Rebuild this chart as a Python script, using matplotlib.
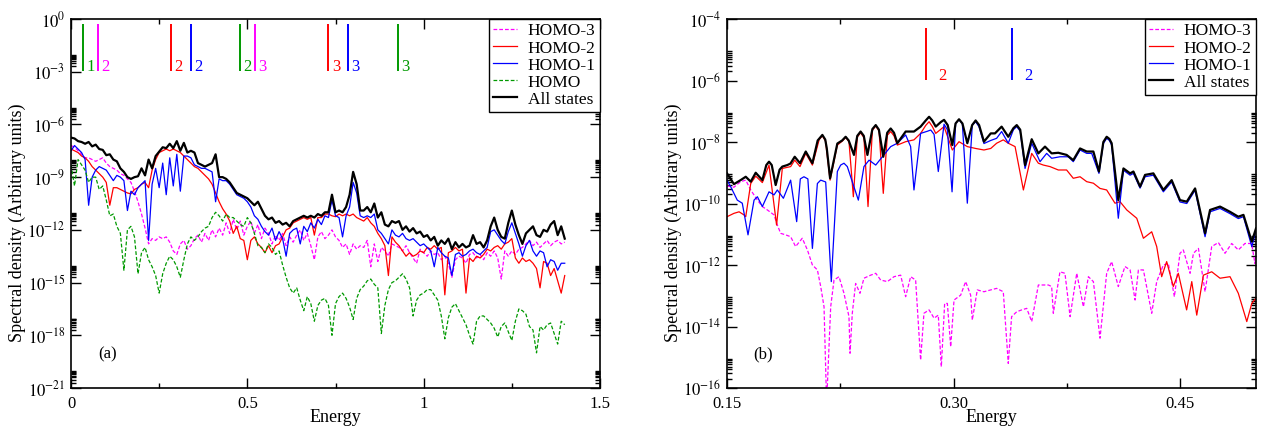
import numpy as np
import matplotlib
matplotlib.use("Agg")
import matplotlib.pyplot as plt
from matplotlib.ticker import FixedLocator, FuncFormatter, NullFormatter

plt.rcParams['font.family'] = ['Liberation Serif', 'DejaVu Serif']
plt.rcParams['mathtext.fontset'] = 'stix'

MAG = '#ff00ff'
RED = '#ff0000'
BLUE = '#0000ff'
GREEN = '#009900'

# --- panel (a): energy grid and log10 of the spectral density ---
energy_a = np.linspace(0.0, 1.4, 141)

all_a = [
    -6.75, -6.80, -6.95, -7.00, -7.10, -7.00, -7.25, -7.15, -7.40, -7.45,
    -7.75, -7.70, -8.00, -8.10, -8.50, -8.70, -9.00, -9.10, -9.00, -8.95,
    -8.50, -8.90, -8.00, -8.50, -7.80, -7.55, -7.30, -7.35, -7.10, -7.35,
    -6.95, -7.50, -7.05, -7.60, -7.50, -7.60, -8.20, -8.30, -8.40, -8.30,
    -8.20, -7.70, -9.00, -9.00, -9.10, -9.30, -9.60, -9.90, -10.00, -10.10,
    -10.20, -10.40, -10.60, -10.40, -10.80, -11.20, -11.40, -11.30, -11.60, -11.50,
    -11.70, -11.60, -11.80, -11.50, -11.40, -11.30, -11.20, -11.30, -11.20, -11.30,
    -11.10, -11.20, -11.00, -11.00, -10.00, -11.00, -10.90, -11.00, -10.70, -10.00,
    -8.70, -9.40, -10.90, -10.90, -10.70, -11.00, -10.50, -11.30, -11.00, -11.70,
    -11.80, -11.50, -11.60, -11.50, -12.00, -11.80, -12.10, -11.90, -12.20, -12.10,
    -12.40, -12.30, -12.60, -12.40, -12.90, -12.60, -12.80, -12.50, -13.10, -12.70,
    -13.00, -12.80, -13.00, -12.90, -12.30, -12.80, -12.70, -13.00, -12.60, -11.80,
    -11.30, -12.00, -12.40, -12.50, -11.60, -10.90, -11.70, -12.30, -12.80, -12.20,
    -12.00, -11.80, -12.30, -12.40, -12.00, -12.10, -11.70, -11.50, -12.30, -11.80,
    -12.50,
]

homo2_a = [
    -7.4, -7.5, -7.6, -7.8, -7.9, -8.1, -8.4, -8.6, -8.8, -9.0,
    -9.3, -10.6, -9.6, -9.6, -9.7, -9.8, -9.9, -9.95, -9.7, -9.6,
    -9.4, -9.3, -9.6, -8.6, -8.0, -7.6, -7.5, -7.4, -7.5, -7.4,
    -7.5, -7.6, -7.8, -8.0, -8.2, -8.4, -8.5, -8.7, -8.9, -9.1,
    -9.4, -9.9, -10.4, -10.8, -11.1, -11.5, -12.2, -11.8, -12.5, -12.6,
    -13.7, -12.6, -12.4, -12.8, -13.0, -13.3, -12.9, -13.3, -12.9, -12.8,
    -12.4, -12.0, -11.9, -11.6, -11.5, -11.4, -11.3, -11.4, -11.3, -12.3,
    -11.3, -11.3, -11.1, -11.1, -11.2, -11.25, -11.1, -11.2, -11.1, -11.2,
    -11.1, -11.3, -11.4, -11.5, -11.3, -11.6, -11.8, -12.2, -12.5, -12.9,
    -14.6, -12.4, -12.7, -12.9, -13.2, -13.5, -13.3, -13.5, -13.4, -13.2,
    -13.3, -13.0, -13.1, -12.9, -13.1, -13.0, -15.7, -13.3, -13.2, -13.0,
    -13.2, -13.1, -15.6, -13.6, -13.8, -13.5, -13.6, -13.4, -13.1, -13.2,
    -13.0, -12.9, -13.1, -12.8, -12.7, -12.5, -13.6, -13.9, -13.6, -13.8,
    -13.7, -13.9, -14.2, -15.3, -13.8, -13.9, -14.6, -14.2, -14.9, -15.6,
    -14.6,
]

homo1_a = [
    -7.5, -7.2, -7.4, -7.6, -8.0, -10.6, -9.0, -8.6, -8.4, -8.5,
    -8.6, -8.9, -9.2, -8.9, -9.0, -9.2, -10.9, -9.8, -10.0, -9.6,
    -9.4, -9.2, -12.6, -9.4, -8.5, -9.6, -8.2, -10.0, -7.9, -9.5,
    -7.7, -9.8, -7.8, -7.8, -7.9, -8.3, -8.4, -8.5, -8.5, -8.6,
    -8.7, -10.4, -9.1, -9.2, -9.2, -9.4, -9.7, -10.0, -10.1, -10.2,
    -10.4, -10.7, -11.2, -11.4, -11.8, -12.1, -12.3, -11.9, -12.6, -12.1,
    -12.5, -13.5, -12.2, -12.0, -11.9, -12.8, -11.8, -12.1, -11.6, -11.9,
    -11.4, -11.7, -11.2, -11.3, -10.3, -11.2, -11.3, -12.4, -11.2, -10.7,
    -9.3, -9.9, -11.2, -11.3, -11.2, -11.3, -11.1, -12.0, -12.2, -12.5,
    -12.8, -12.0, -12.3, -12.4, -12.2, -12.5, -12.6, -12.5, -12.7, -12.9,
    -12.8, -13.0, -13.2, -14.1, -13.0, -13.3, -13.5, -13.6, -14.6, -13.4,
    -13.3, -13.5, -13.4, -13.2, -13.1, -13.3, -13.4, -13.2, -13.0, -12.1,
    -12.0, -12.3, -12.6, -12.8, -12.1, -11.6, -12.2, -12.8, -13.5, -12.9,
    -12.6, -13.2, -13.5, -13.2, -13.3, -14.1, -13.7, -13.8, -14.3, -13.9,
    -13.9,
]

homo3_a = [
    -7.2, -7.3, -7.5, -7.7, -7.9, -7.9, -8.0, -8.1, -8.0, -7.9,
    -8.2, -8.4, -8.5, -8.6, -8.8, -8.9, -9.1, -9.3, -9.8, -10.4,
    -11.1, -11.9, -12.8, -12.5, -12.6, -12.4, -12.5, -12.4, -12.7, -13.2,
    -13.4, -12.8, -12.6, -13.1, -12.9, -12.5, -12.3, -12.7, -12.2, -12.6,
    -12.0, -12.4, -11.9, -12.3, -11.6, -12.2, -11.4, -12.0, -11.5, -12.3,
    -11.8, -11.5, -12.2, -11.7, -12.5, -11.9, -12.2, -12.8, -12.3, -12.6,
    -12.2, -12.9, -12.4, -12.7, -12.3, -12.0, -12.6, -12.2, -12.9, -13.7,
    -12.4, -12.1, -12.5, -12.3, -12.0, -12.4, -12.6, -13.0, -12.8, -13.4,
    -12.8, -13.1, -12.9, -13.0, -12.6, -14.1, -12.8, -13.8, -13.0, -13.2,
    -13.5, -12.8, -12.9, -13.0, -13.2, -12.9, -13.3, -13.6, -13.9, -13.1,
    -13.3, -13.5, -13.2, -13.4, -13.3, -13.7, -13.5, -13.9, -14.7, -13.7,
    -13.5, -13.6, -13.9, -13.4, -13.3, -13.6, -13.4, -13.7, -13.3, -13.5,
    -13.2, -13.6, -14.8, -13.2, -13.5, -13.2, -13.4, -13.1, -13.0, -12.8,
    -12.6, -12.9, -12.7, -13.0, -12.8, -12.6, -12.9, -12.7, -12.6, -12.8,
    -12.7,
]

homo_a = [
    -8.3, -9.5, -8.0, -8.3, -8.6, -9.3, -9.0, -9.0, -9.7, -9.5,
    -10.3, -11.2, -11.1, -11.8, -12.2, -14.3, -12.0, -11.8, -12.4, -14.5,
    -13.3, -13.0, -13.7, -14.1, -14.6, -15.6, -14.5, -13.9, -13.5, -13.7,
    -14.1, -14.7, -13.7, -12.8, -12.4, -12.6, -12.4, -12.1, -11.9, -11.8,
    -11.3, -11.0, -11.2, -11.5, -11.1, -11.3, -11.3, -11.5, -11.7, -11.8,
    -11.3, -11.6, -12.2, -12.9, -13.0, -13.3, -12.8, -13.0, -13.4, -13.2,
    -14.0, -14.7, -15.3, -15.6, -15.3, -16.0, -16.6, -15.8, -16.2, -17.2,
    -16.3, -16.0, -15.9, -16.3, -18.0, -16.2, -15.8, -15.6, -15.9, -16.4,
    -17.1, -15.9, -15.4, -15.2, -14.9, -14.8, -15.1, -15.3, -17.9, -16.3,
    -15.4, -15.0, -14.9, -14.7, -14.5, -14.8, -15.3, -16.9, -16.0, -15.7,
    -15.6, -15.4, -15.4, -15.7, -16.0, -16.9, -18.2, -17.0, -16.4, -16.2,
    -16.6, -17.0, -17.4, -18.0, -18.5, -17.2, -16.9, -16.9, -17.1, -17.3,
    -17.6, -18.1, -17.5, -17.3, -17.8, -18.3, -17.2, -16.5, -16.6, -16.8,
    -17.5, -17.7, -19.0, -17.5, -17.7, -17.4, -17.3, -17.9, -18.5, -17.2,
    -17.4,
]

# harmonic markers drawn at the top of panel (a)
marks_a_x = [0.033, 0.076, 0.284, 0.340, 0.479, 0.522, 0.730, 0.786, 0.926]
marks_a_lab = ['1', '2', '2', '2', '2', '3', '3', '3', '3']
marks_a_col = [GREEN, MAG, RED, BLUE, GREEN, MAG, RED, BLUE, GREEN]

# --- panel (b): zoom on 0.15-0.5, log10 values at read positions ---
all_b_x = [
    0.1500, 0.1546, 0.1590, 0.1624, 0.1657, 0.1690, 0.1734, 0.1760, 0.1778, 0.1796,
    0.1822, 0.1848, 0.1866, 0.1899, 0.1920, 0.1948, 0.1983, 0.2021, 0.2065, 0.2100,
    0.2131, 0.2150, 0.2160, 0.2182, 0.2230, 0.2262, 0.2285, 0.2305, 0.2340, 0.2362,
    0.2384, 0.2405, 0.2429, 0.2462, 0.2484, 0.2505, 0.2534, 0.2560, 0.2583, 0.2605,
    0.2627, 0.2682, 0.2737, 0.2781, 0.2815, 0.2837, 0.2858, 0.2881, 0.2915, 0.2936,
    0.2960, 0.2991, 0.3012, 0.3035, 0.3058, 0.3090, 0.3122, 0.3145, 0.3168, 0.3200,
    0.3245, 0.3273, 0.3317, 0.3361, 0.3395, 0.3417, 0.3440, 0.3472, 0.3516, 0.3560,
    0.3604, 0.3648, 0.3692, 0.3747, 0.3791, 0.3836, 0.3880, 0.3924, 0.3961, 0.3990,
    0.4012, 0.4030, 0.4045, 0.4089, 0.4123, 0.4167, 0.4189, 0.4233, 0.4266, 0.4321,
    0.4387, 0.4442, 0.4497, 0.4542, 0.4597, 0.4663, 0.4696, 0.4762, 0.4828, 0.4883,
    0.4917, 0.4972, 0.5000,
]
all_b = [
    -9.02, -9.37, -9.24, -9.13, -9.29, -9.00, -9.24, -8.75, -8.64, -8.75,
    -9.40, -8.90, -8.80, -8.75, -8.70, -8.48, -8.69, -8.31, -8.69, -7.95,
    -7.77, -7.92, -8.20, -9.18, -8.05, -7.95, -7.83, -7.95, -8.42, -7.80,
    -7.66, -7.80, -8.42, -7.58, -7.45, -7.60, -8.48, -7.70, -7.56, -7.70,
    -8.04, -7.66, -7.66, -7.50, -7.30, -7.18, -7.30, -7.50, -7.35, -7.28,
    -7.45, -8.10, -7.40, -7.26, -7.40, -8.04, -7.45, -7.30, -7.45, -7.99,
    -7.72, -7.72, -7.50, -7.83, -7.55, -7.45, -7.60, -8.75, -7.91, -8.37,
    -8.15, -8.37, -8.35, -8.42, -8.59, -8.21, -8.31, -8.31, -8.96, -8.00,
    -7.83, -7.90, -8.04, -9.89, -8.86, -9.02, -8.96, -9.45, -9.07, -9.02,
    -9.56, -9.24, -9.89, -9.94, -9.51, -10.97, -10.21, -10.10, -10.27, -10.43,
    -10.37, -11.24, -10.81,
]

homo2_b_x = [
    0.1500, 0.1546, 0.1580, 0.1612, 0.1624, 0.1657, 0.1690, 0.1734, 0.1778, 0.1828,
    0.1866, 0.1921, 0.1948, 0.1983, 0.2021, 0.2065, 0.2110, 0.2131, 0.2152, 0.2182,
    0.2230, 0.2263, 0.2285, 0.2307, 0.2336, 0.2362, 0.2384, 0.2406, 0.2433, 0.2462,
    0.2484, 0.2506, 0.2534, 0.2561, 0.2583, 0.2605, 0.2627, 0.2682, 0.2737, 0.2781,
    0.2815, 0.2837, 0.2859, 0.2881, 0.2936, 0.2991, 0.3035, 0.3090, 0.3145, 0.3200,
    0.3245, 0.3284, 0.3328, 0.3361, 0.3406, 0.3461, 0.3516, 0.3560, 0.3593, 0.3637,
    0.3692, 0.3747, 0.3791, 0.3836, 0.3880, 0.3924, 0.3968, 0.4012, 0.4067, 0.4100,
    0.4145, 0.4211, 0.4255, 0.4310, 0.4343, 0.4376, 0.4409, 0.4453, 0.4486, 0.4541,
    0.4575, 0.4608, 0.4652, 0.4707, 0.4762, 0.4828, 0.4883, 0.4939, 0.4972, 0.5000,
]
homo2_b = [
    -10.43, -10.32, -10.27, -10.37, -10.43, -9.35, -9.11, -9.32, -8.75, -10.70,
    -8.86, -8.80, -8.59, -8.80, -8.37, -8.75, -7.92, -7.80, -7.97, -9.24,
    -8.10, -7.97, -7.85, -7.99, -9.78, -7.84, -7.70, -7.86, -10.10, -7.62,
    -7.48, -7.64, -9.67, -7.78, -7.66, -7.80, -8.10, -7.99, -7.93, -7.72,
    -7.46, -7.34, -7.50, -7.72, -7.50, -8.26, -7.99, -8.15, -8.21, -8.26,
    -8.21, -8.04, -7.93, -8.04, -8.15, -9.56, -8.37, -8.69, -8.75, -8.80,
    -8.91, -8.91, -9.18, -9.13, -9.29, -9.34, -9.51, -9.56, -9.99, -9.94,
    -10.21, -10.48, -11.13, -10.92, -11.40, -12.38, -11.89, -12.70, -12.27, -13.46,
    -12.54, -13.63, -12.33, -12.22, -12.43, -12.38, -12.92, -13.84, -13.25, -13.08,
]

homo1_b_x = [
    0.1500, 0.1524, 0.1568, 0.1601, 0.1639, 0.1679, 0.1701, 0.1734, 0.1778, 0.1811,
    0.1833, 0.1873, 0.1921, 0.1961, 0.1985, 0.2009, 0.2035, 0.2065, 0.2098, 0.2120,
    0.2153, 0.2190, 0.2230, 0.2252, 0.2274, 0.2296, 0.2318, 0.2369, 0.2406, 0.2440,
    0.2484, 0.2528, 0.2583, 0.2627, 0.2682, 0.2715, 0.2737, 0.2781, 0.2826, 0.2848,
    0.2870, 0.2898, 0.2936, 0.2958, 0.2989, 0.3013, 0.3035, 0.3057, 0.3090, 0.3123,
    0.3145, 0.3167, 0.3200, 0.3245, 0.3284, 0.3317, 0.3361, 0.3395, 0.3417, 0.3440,
    0.3472, 0.3516, 0.3571, 0.3615, 0.3648, 0.3703, 0.3758, 0.3791, 0.3836, 0.3880,
    0.3913, 0.3961, 0.3990, 0.4012, 0.4030, 0.4045, 0.4089, 0.4123, 0.4167, 0.4189,
    0.4233, 0.4266, 0.4321, 0.4387, 0.4442, 0.4497, 0.4542, 0.4597, 0.4663, 0.4696,
    0.4762, 0.4828, 0.4883, 0.4917, 0.4972, 0.5000,
]
homo1_b = [
    -9.24, -9.45, -9.89, -9.99, -11.02, -9.89, -9.78, -10.10, -9.62, -9.72,
    -9.56, -9.83, -9.24, -10.59, -9.20, -9.13, -9.20, -11.46, -9.35, -9.24,
    -9.30, -12.54, -8.96, -8.75, -8.69, -8.80, -9.13, -9.89, -8.80, -8.59,
    -8.75, -8.48, -8.15, -8.04, -7.77, -8.15, -9.56, -7.72, -7.65, -7.61,
    -7.75, -8.96, -7.42, -7.60, -9.62, -7.38, -7.28, -7.40, -9.99, -7.45,
    -7.34, -7.50, -8.05, -7.95, -7.88, -7.66, -8.04, -7.60, -7.50, -7.65,
    -8.86, -8.04, -8.64, -8.37, -8.53, -8.48, -8.48, -8.64, -8.26, -8.37,
    -8.37, -9.02, -8.05, -7.88, -7.95, -8.10, -10.48, -8.92, -9.08, -9.02,
    -9.50, -9.13, -9.08, -9.62, -9.30, -9.95, -10.00, -9.57, -11.08, -10.27,
    -10.16, -10.33, -10.49, -10.43, -11.40, -10.87,
]

homo3_b_x = [
    0.1500, 0.1546, 0.1590, 0.1624, 0.1657, 0.1701, 0.1734, 0.1767, 0.1811, 0.1833,
    0.1855, 0.1888, 0.1921, 0.1954, 0.1998, 0.2032, 0.2065, 0.2098, 0.2120, 0.2142,
    0.2159, 0.2186, 0.2208, 0.2241, 0.2274, 0.2307, 0.2314, 0.2329, 0.2351, 0.2380,
    0.2406, 0.2451, 0.2484, 0.2517, 0.2561, 0.2605, 0.2649, 0.2682, 0.2715, 0.2748,
    0.2781, 0.2803, 0.2837, 0.2870, 0.2898, 0.2918, 0.2940, 0.2958, 0.2980, 0.3002,
    0.3046, 0.3079, 0.3112, 0.3123, 0.3156, 0.3200, 0.3245, 0.3284, 0.3328, 0.3361,
    0.3383, 0.3417, 0.3450, 0.3483, 0.3516, 0.3560, 0.3626, 0.3648, 0.3659, 0.3703,
    0.3736, 0.3770, 0.3814, 0.3858, 0.3891, 0.3924, 0.3968, 0.4012, 0.4045, 0.4089,
    0.4133, 0.4167, 0.4200, 0.4222, 0.4255, 0.4310, 0.4343, 0.4387, 0.4420, 0.4460,
    0.4497, 0.4519, 0.4564, 0.4586, 0.4619, 0.4663, 0.4707, 0.4751, 0.4795, 0.4839,
    0.4883, 0.4927, 0.4971, 0.4993, 0.5000,
]
homo3_b = [
    -9.43, -9.47, -9.29, -9.24, -9.56, -9.89, -10.10, -10.21, -10.37, -10.70,
    -10.97, -11.02, -11.08, -11.40, -11.13, -11.51, -12.00, -12.16, -12.70, -13.36,
    -16.50, -13.36, -12.49, -12.38, -12.92, -13.68, -14.87, -13.57, -12.60, -12.92,
    -12.43, -12.33, -12.27, -12.49, -12.54, -12.38, -12.33, -13.03, -12.38, -12.49,
    -15.09, -13.57, -13.46, -13.73, -13.63, -15.31, -13.25, -13.25, -14.66, -13.14,
    -12.98, -12.54, -12.98, -13.79, -12.81, -12.87, -12.81, -12.76, -12.87, -15.20,
    -13.68, -13.52, -13.46, -13.41, -13.84, -12.65, -12.65, -12.70, -13.57, -12.22,
    -12.27, -13.68, -12.27, -13.36, -12.38, -12.54, -14.38, -12.27, -11.89, -12.70,
    -12.05, -12.16, -13.14, -12.16, -12.16, -13.57, -12.54, -12.00, -11.95, -13.03,
    -11.62, -11.51, -12.27, -11.62, -11.46, -12.87, -11.40, -11.27, -11.62, -11.30,
    -11.51, -11.30, -11.30, -11.95, -11.73,
]

marks_b_x = [0.2817, 0.3386]
marks_b_lab = ['2', '2']
marks_b_col = [RED, BLUE]


def pow10(vals):
    return 10.0 ** np.array(vals)


def style_axis(ax, major_exps, xmaj, xmin, xlabels):
    ax.set_yscale('log')
    ax.yaxis.set_major_locator(FixedLocator([10.0 ** e for e in major_exps]))
    minors = [k * 10.0 ** e for e in major_exps for k in range(2, 10)]
    ax.yaxis.set_minor_locator(FixedLocator(minors))
    ax.yaxis.set_major_formatter(FuncFormatter(lambda v, p: r'$10^{%d}$' % round(np.log10(v))))
    ax.yaxis.set_minor_formatter(NullFormatter())
    ax.xaxis.set_major_locator(FixedLocator(xmaj))
    ax.xaxis.set_minor_locator(FixedLocator(xmin))
    ax.set_xticklabels(xlabels)
    ax.tick_params(which='both', direction='in', top=True, right=True, width=1.0)
    ax.tick_params(which='major', length=7.2, labelsize=12, pad=4)
    ax.tick_params(axis='x', which='major', pad=5.5)
    ax.tick_params(which='minor', length=3.6)
    for s in ax.spines.values():
        s.set_linewidth(1.2)
    ax.set_xlabel('Energy', fontsize=13)
    ax.set_ylabel('Spectral density (Arbitrary units)', fontsize=13)


fig = plt.figure(figsize=(12.61, 4.30), dpi=100)
ax1 = fig.add_axes([71 / 1261, 42 / 430, 529 / 1261, 369 / 430])
ax2 = fig.add_axes([727 / 1261, 42 / 430, 529 / 1261, 369 / 430])

dash = (0, (3, 1.6))

# panel (a)
ax1.plot(energy_a, pow10(homo3_a), color=MAG, lw=0.9, ls=dash, label='HOMO-3')
ax1.plot(energy_a, pow10(homo2_a), color=RED, lw=0.9, label='HOMO-2')
ax1.plot(energy_a, pow10(homo1_a), color=BLUE, lw=0.9, label='HOMO-1')
ax1.plot(energy_a, pow10(homo_a), color=GREEN, lw=0.9, ls=dash, label='HOMO')
ax1.plot(energy_a, pow10(all_a), color='black', lw=1.6, label='All states')

ax1.vlines(marks_a_x, 10 ** -2.96, 10 ** -0.28, colors=marks_a_col, lw=1.4)
for x, lab, c in zip(marks_a_x, marks_a_lab, marks_a_col):
    ax1.annotate(lab, (x, 10 ** -2.96), xytext=(2.5, 0), textcoords='offset points',
                 color=c, fontsize=12, va='baseline', ha='left')

ax1.set_xlim(0, 1.5)
ax1.set_ylim(1e-21, 1e0)
style_axis(ax1, list(range(-21, 1, 3)), [0, 0.5, 1, 1.5], [0.25, 0.75, 1.25],
           ['0', '0.5', '1', '1.5'])
ax1.text(0.051, 0.081, '(a)', transform=ax1.transAxes, fontsize=12)

# panel (b)
ax2.plot(homo3_b_x, pow10(homo3_b), color=MAG, lw=0.9, ls=dash, label='HOMO-3')
ax2.plot(homo2_b_x, pow10(homo2_b), color=RED, lw=0.9, label='HOMO-2')
ax2.plot(homo1_b_x, pow10(homo1_b), color=BLUE, lw=0.9, label='HOMO-1')
ax2.plot(all_b_x, pow10(all_b), color='black', lw=1.6, label='All states')

ax2.vlines(marks_b_x, 10 ** -5.98, 10 ** -4.29, colors=marks_b_col, lw=1.4)
for x, lab, c in zip(marks_b_x, marks_b_lab, marks_b_col):
    ax2.annotate(lab, (x, 10 ** -5.98), xytext=(8.5, 0), textcoords='offset points',
                 color=c, fontsize=12, va='baseline', ha='left')

ax2.set_xlim(0.15, 0.5)
ax2.set_ylim(1e-16, 1e-4)
style_axis(ax2, list(range(-16, -3, 2)), [0.15, 0.30, 0.45], [0.225, 0.375],
           ['0.15', '0.30', '0.45'])
ax2.text(0.049, 0.081, '(b)', transform=ax2.transAxes, fontsize=12)

for ax in (ax1, ax2):
    ax.yaxis.set_label_coords(-0.085, 0.448)
    ax.xaxis.set_label_coords(0.5, -0.057)
    leg = ax.legend(loc='upper right', borderaxespad=0, fancybox=False,
                    edgecolor='black', framealpha=1, fontsize=12.5,
                    handlelength=1.4, handletextpad=0.6, labelspacing=0.05,
                    borderpad=0.25)
    leg.get_frame().set_linewidth(1.0)

fig.savefig('out.png', dpi=100)
